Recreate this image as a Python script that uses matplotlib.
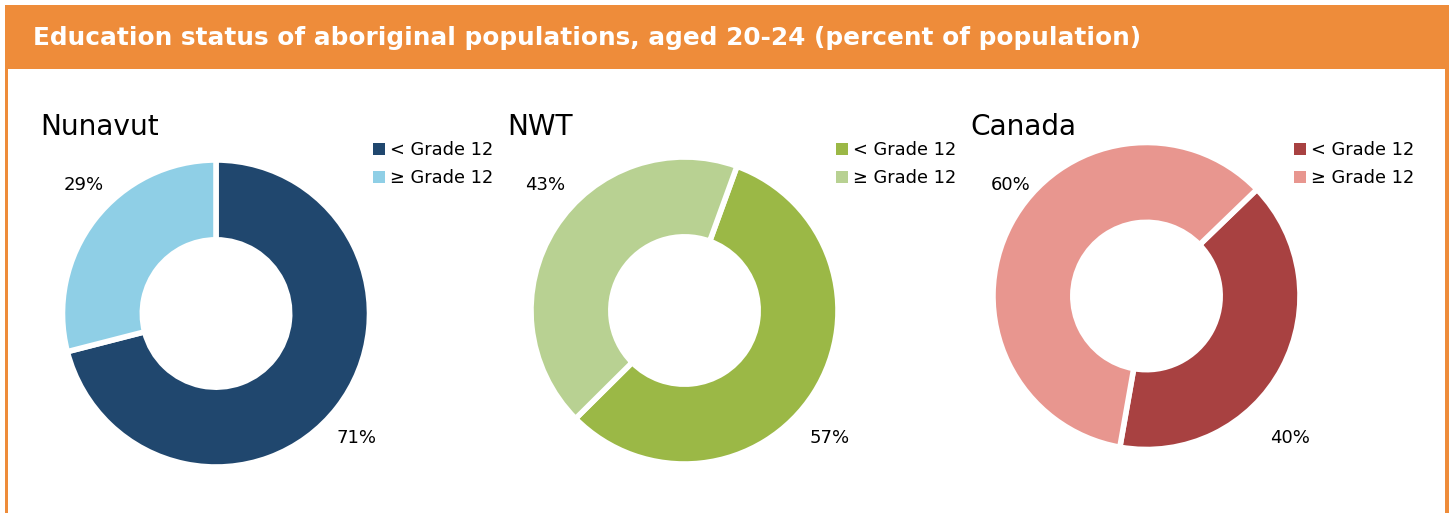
import matplotlib.pyplot as plt
from matplotlib.patches import Rectangle, Patch

plt.rcParams['font.family'] = ['DejaVu Sans']

W, H = 1452, 513

# data
regions = ['Nunavut', 'NWT', 'Canada']
categories = ['< Grade 12', '≥ Grade 12']
below_12 = [71, 57, 40]
above_12 = [29, 43, 60]
title = 'Education status of aboriginal populations, aged 20-24 (percent of population)'

dark = ['#20476E', '#9BB846', '#A84141']
light = ['#8FCFE6', '#B8D192', '#E8968F']
orange = '#EE8C3A'

# layout in pixels (from top-left)
centers = [(216, 313.5), (684.5, 310.5), (1146.5, 296)]
radius = 153.5
start = [90, 70, 44]
title_x = [40, 507, 970]
legend_x = [373, 836, 1294]
low_lab = [(356, 443), (830, 443), (1290, 443)]
up_lab = [(84, 190), (545, 190), (1011, 190)]


def fx(x):
    return x / W


def fy(y):
    return 1 - y / H


fig = plt.figure(figsize=(W / 100, H / 100), dpi=100)
fig.patches.append(Rectangle((fx(5), 0), fx(1449) - fx(5), fy(5), transform=fig.transFigure,
                             facecolor=orange, edgecolor='none', zorder=-2))
fig.patches.append(Rectangle((fx(8), 0), fx(1445) - fx(8), fy(69), transform=fig.transFigure,
                             facecolor='white', edgecolor='none', zorder=-1))
fig.text(fx(33), fy(44.5), title, color='white', fontsize=17.8, fontweight='bold', va='baseline', ha='left')

for i, name in enumerate(regions):
    cx, cy = centers[i]
    ax = fig.add_axes([fx(cx - radius * 1.02), fy(cy + radius * 1.02),
                       2.04 * radius / W, 2.04 * radius / H])
    wedges, _ = ax.pie([below_12[i], above_12[i]], colors=[dark[i], light[i]],
                       startangle=start[i], counterclock=False, radius=1,
                       wedgeprops=dict(width=0.52, edgecolor='white', linewidth=4))
    ax.set_xlim(-1.02, 1.02)
    ax.set_ylim(-1.02, 1.02)
    ax.set_aspect('auto')
    ax.axis('off')

    fig.text(fx(title_x[i]), fy(135), name, fontsize=20.2, va='baseline', ha='left', color='black')
    fig.text(fx(low_lab[i][0]), fy(low_lab[i][1]), f'{below_12[i]}%', fontsize=13,
             ha='center', va='baseline', color='black')
    fig.text(fx(up_lab[i][0]), fy(up_lab[i][1]), f'{above_12[i]}%', fontsize=13,
             ha='center', va='baseline', color='black')
    handles = [Patch(facecolor=w.get_facecolor(), edgecolor='none') for w in wedges]
    ax.legend(handles, categories, loc='upper left', bbox_to_anchor=(fx(legend_x[i]), fy(141)),
              bbox_transform=fig.transFigure, frameon=False, fontsize=12.8,
              handlelength=0.67, handleheight=0.67, handletextpad=0.28,
              labelspacing=0.58, borderpad=0, borderaxespad=0)

fig.savefig('out.png', dpi=100)
